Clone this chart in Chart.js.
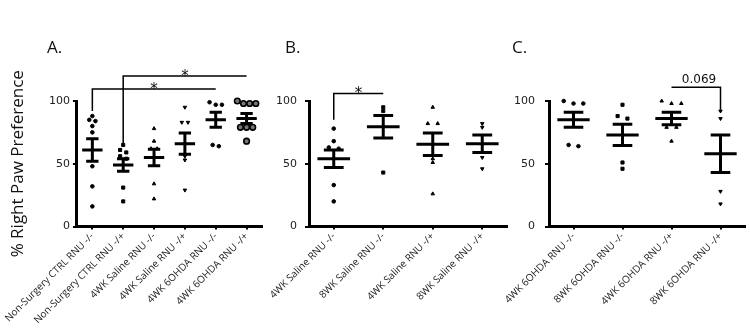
<!DOCTYPE html>
<html>
<head>
<meta charset="utf-8">
<title>Right paw preference</title>
<script src="https://cdn.jsdelivr.net/npm/chart.js@4"></script>
<style>
  body { margin: 0; background: #fff; }
  #wrap { position: relative; width: 750px; height: 328px; overflow: hidden; font-family: 'Open Sans', sans-serif; }
  #wrap canvas { position: absolute; top: 0; }
  .panel-letter { position: absolute; top: 38px; font-size: 17px; line-height: 17px; color: #111; }
</style>
</head>
<body>
<div id="wrap">
  <canvas id="chartA" width="265" height="328" style="left:0"></canvas>
  <canvas id="chartB" width="250" height="328" style="left:262px"></canvas>
  <canvas id="chartC" width="250" height="328" style="left:500px"></canvas>
  <div class="panel-letter" style="left:47px">A.</div>
  <div class="panel-letter" style="left:285px">B.</div>
  <div class="panel-letter" style="left:512px">C.</div>
</div>
<script>
// Panel A
const groupsA = ['Non-Surgery CTRL RNU -/-', 'Non-Surgery CTRL RNU -/+', '4WK Saline RNU -/-',
                 '4WK Saline RNU -/+', '4WK 6OHDA RNU -/-', '4WK 6OHDA RNU -/+'];
const pointsA = [
    [88, 85, 84, 80, 75, 48, 32, 16],
    [65, 61, 59, 56, 54, 31, 20],
    [78, 68, 62, 62, 34, 22],
    [95, 83, 83, 56, 53, 29],
    [99, 97, 97, 65, 64],
    [100, 98, 98, 98, 79, 79, 79, 68]
];
const meansA = [61, 49, 55, 66, 85, 86];
const semsA = [9, 5, 6.5, 8.5, 6, 4];

// Panel B
const groupsB = ['4WK Saline RNU -/-', '8WK Saline RNU -/-', '4WK Saline RNU -/+', '8WK Saline RNU -/+'];
const pointsB = [
    [78, 68, 63, 62, 33, 20],
    [95, 92, 43],
    [95, 82, 82, 54, 51, 26],
    [82, 79, 55, 46]
];
const meansB = [54, 79.5, 65.5, 66];
const semsB = [7, 9, 9, 7];

// Panel C
const groupsC = ['4WK 6OHDA RNU -/-', '8WK 6OHDA RNU -/-', '4WK 6OHDA RNU -/+', '8WK 6OHDA RNU -/+'];
const pointsC = [
    [100, 98, 98, 65, 64],
    [97, 88, 86, 51, 46],
    [100, 98, 98, 79, 79, 68],
    [92, 86, 28, 18]
];
const meansC = [85, 73, 86, 58];
const semsC = [6, 8.5, 5, 15];

const yTicks = [0, 50, 100];
const yTitle = '% Right Paw Preference';

// Spread points with (nearly) equal values side by side, like a dot plot
function spreadPoints(values, groupIndex) {
    const sorted = [...values].sort((a, b) => b - a);
    const out = [];
    let cluster = [];
    const flush = () => {
        cluster.forEach((v, j) => {
            out.push({ x: groupIndex + (j - (cluster.length - 1) / 2) * 0.2, y: v });
        });
        cluster = [];
    };
    sorted.forEach(v => {
        if (cluster.length && cluster[cluster.length - 1] - v > 2.5) flush();
        cluster.push(v);
    });
    flush();
    return out;
}

// Mean line, SEM whiskers and significance brackets
const meanSemPlugin = {
    id: 'meanSem',
    afterDatasetsDraw(chart, args, opts) {
        const { ctx, scales: { x, y } } = chart;
        const step = x.getPixelForValue(1) - x.getPixelForValue(0);
        ctx.save();
        ctx.strokeStyle = '#000';
        ctx.lineWidth = 3;
        opts.means.forEach((m, i) => {
            const cx = x.getPixelForValue(i);
            const yMean = y.getPixelForValue(m);
            const yHi = y.getPixelForValue(m + opts.sems[i]);
            const yLo = y.getPixelForValue(m - opts.sems[i]);
            const half = step * 0.33;
            const cap = step * 0.2;
            ctx.beginPath();
            ctx.moveTo(cx - half, yMean); ctx.lineTo(cx + half, yMean);
            ctx.moveTo(cx, yHi); ctx.lineTo(cx, yLo);
            ctx.moveTo(cx - cap, yHi); ctx.lineTo(cx + cap, yHi);
            ctx.moveTo(cx - cap, yLo); ctx.lineTo(cx + cap, yLo);
            ctx.stroke();
        });

        ctx.lineWidth = 1.5;
        ctx.fillStyle = '#111';
        ctx.textAlign = 'center';
        ctx.textBaseline = 'alphabetic';
        (opts.brackets || []).forEach(b => {
            const x1 = x.getPixelForValue(b.from);
            const x2 = x.getPixelForValue(b.to);
            const yl = y.getPixelForValue(b.level);
            ctx.beginPath();
            if (b.dropFrom != null) {
                ctx.moveTo(x1, y.getPixelForValue(b.dropFrom));
                ctx.lineTo(x1, yl);
            } else {
                ctx.moveTo(x1, yl);
            }
            ctx.lineTo(x2, yl);
            if (b.dropTo != null) ctx.lineTo(x2, y.getPixelForValue(b.dropTo));
            ctx.stroke();
            if (b.text === '*') {
                ctx.font = '15px "DejaVu Sans"';
                ctx.fillText(b.text, (x1 + x2) / 2, yl + 5);
            } else {
                ctx.font = '12px "DejaVu Sans"';
                ctx.fillText(b.text, (x1 + x2) / 2 + 3, yl - 4);
            }
        });
        ctx.restore();
    }
};

function makePanel(id, groups, points, means, sems, markers, cfg) {
    const datasets = points.map((vals, i) => ({
        data: spreadPoints(vals, i),
        clip: false,
        pointStyle: markers[i].style,
        pointRotation: markers[i].rotation || 0,
        pointRadius: markers[i].radius,
        pointBorderWidth: markers[i].border || 1,
        pointBackgroundColor: markers[i].fill || '#000',
        pointBorderColor: '#000',
        showLine: false
    }));

    return new Chart(document.getElementById(id), {
        type: 'scatter',
        data: { datasets },
        options: {
            responsive: false,
            animation: false,
            devicePixelRatio: 1,
            layout: {
                autoPadding: false,
                padding: { top: 101, right: cfg.padRight, left: 0, bottom: 0 }
            },
            plugins: {
                legend: { display: false },
                tooltip: { enabled: false },
                meanSem: { means, sems, brackets: cfg.brackets }
            },
            scales: {
                x: {
                    type: 'linear',
                    min: -0.5,
                    max: groups.length - 0.5,
                    afterBuildTicks: scale => { scale.ticks = groups.map((g, i) => ({ value: i })); },
                    afterFit: scale => { scale.height = 101.5; },
                    border: { display: true, width: 3, color: '#000' },
                    grid: { display: true, drawOnChartArea: false, drawTicks: true, tickLength: 3, lineWidth: 2, color: '#000' },
                    ticks: {
                        autoSkip: false,
                        minRotation: 45,
                        maxRotation: 45,
                        padding: 1,
                        color: '#222',
                        font: { family: 'Open Sans', size: 10 },
                        callback: v => groups[v]
                    }
                },
                y: {
                    min: 0,
                    max: 100,
                    afterBuildTicks: scale => { scale.ticks = yTicks.map(v => ({ value: v })); },
                    afterFit: scale => { scale.width = cfg.yWidth; },
                    border: { display: true, width: 3, color: '#000' },
                    grid: { display: true, drawOnChartArea: false, drawTicks: true, tickLength: 4, lineWidth: 2, color: '#000' },
                    ticks: {
                        padding: cfg.tickPad,
                        color: '#222',
                        font: { family: 'DejaVu Sans', size: 11 }
                    },
                    title: {
                        display: !!cfg.title,
                        text: cfg.title,
                        color: '#111',
                        font: { family: 'Open Sans', size: 17 },
                        padding: { top: 2, bottom: 0 }
                    }
                }
            }
        },
        plugins: [meanSemPlugin]
    });
}

const dot = { style: 'circle', radius: 1.8 };
const square = { style: 'rect', radius: 2.2 };
const triUp = { style: 'triangle', radius: 2 };
const triDown = { style: 'triangle', radius: 2, rotation: 180 };
const ring = { style: 'circle', radius: 2.8, border: 1.6, fill: '#777' };

makePanel('chartA', groupsA, pointsA, meansA, semsA,
    [dot, square, triUp, triDown, dot, ring],
    {
        yWidth: 71, padRight: 3, tickPad: 3, title: yTitle,
        brackets: [
            { from: 0, to: 4, level: 109.5, dropFrom: 92, text: '*' },
            { from: 1, to: 5, level: 120, dropFrom: 66, text: '*' }
        ]
    });

makePanel('chartB', groupsB, pointsB, meansB, semsB,
    [dot, square, triUp, triDown],
    {
        yWidth: 47, padRight: 5, tickPad: 8,
        brackets: [
            { from: 0, to: 1, level: 106, dropFrom: 85, text: '*' }
        ]
    });

makePanel('chartC', groupsC, pointsC, meansC, semsC,
    [dot, square, triUp, triDown],
    {
        yWidth: 46, padRight: 5, tickPad: 10,
        brackets: [
            { from: 2, to: 3, level: 111, dropTo: 93, text: '0.069' }
        ]
    });
</script>
</body>
</html>
